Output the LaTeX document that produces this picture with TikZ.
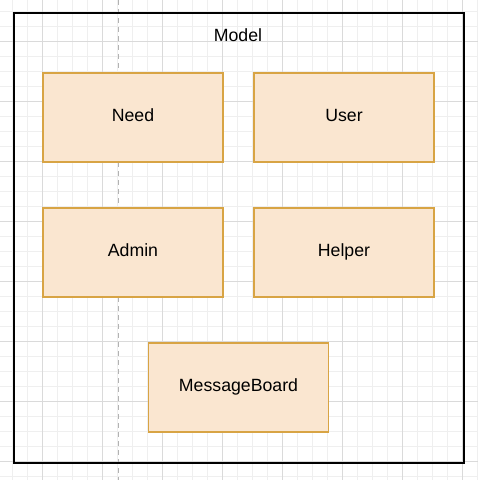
\documentclass[tikz,border=0pt]{standalone}
\usepackage{fontspec}
\setmainfont{Liberation Sans}
\usepackage{tikz}
\usetikzlibrary{positioning,calc}
\definecolor{boxfill}{HTML}{FAE6D0}
\definecolor{boxline}{HTML}{D8A444}
\definecolor{minorgrid}{HTML}{EFEFEF}
\definecolor{majorgrid}{HTML}{DADADA}

\begin{document}
\begin{tikzpicture}[x=1pt,y=-1pt,node distance=46pt and 31pt,
 every node/.style={font=\fontsize{17.7}{20}\selectfont},
 box/.style={draw=boxline,fill=boxfill,line width=1.2pt,outer sep=0pt,align=center,
   text height=0.72em,text depth=0em,minimum width=180pt,minimum height=89pt}]
\useasboundingbox[fill=white] (0,0) rectangle (478,480);
% grid
\foreach \x in {12,27,...,477} \draw[minorgrid,line width=0.8pt] (\x,0) -- (\x,480);
\foreach \y in {11,26,...,476} \draw[minorgrid,line width=0.8pt] (0,\y) -- (478,\y);
\foreach \x in {42,102,...,462} \draw[majorgrid,line width=0.8pt] (\x,0) -- (\x,480);
\foreach \y in {41,101,...,461} \draw[majorgrid,line width=0.8pt] (0,\y) -- (478,\y);
\draw[gray!60,dash pattern=on 5pt off 4pt,line width=1pt] (118,0) -- (118,480);
% container
\node[draw,line width=1.6pt,minimum width=450pt,minimum height=450pt] (model) at (239,238) {};
\node (title) at (238,35) {Model};
\node[box] (need) at (133,117.5) {Need};
\node[box,right=of need] (user) {User};
\node[box,below=of need] (admin) {Admin};
\node[box,right=of admin] (helper) {Helper};
\node[box,below=46pt of {$(admin.south)!0.5!(helper.south)$}] (board) {MessageBoard};
\end{tikzpicture}
\end{document}
